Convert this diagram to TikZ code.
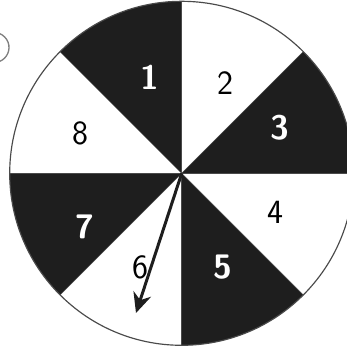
\documentclass[tikz,border=0pt]{standalone}
\usepackage{tikz}
\usetikzlibrary{arrows,arrows.meta,positioning,calc}
\definecolor{sectordark}{HTML}{1E1E1E}
\definecolor{rimgray}{HTML}{4A4A4A}

\begin{document}
\begin{tikzpicture}[x=0.3mm,y=0.3mm,
  numlabel/.style={font=\fontsize{29}{29}\selectfont\sffamily},
  darklabel/.style={numlabel, text=white, font=\fontsize{29}{29}\selectfont\sffamily\bfseries},
  pointer/.style={-{Stealth[length=6mm,width=5.5mm]}, line width=0.9mm, sectordark}]
\useasboundingbox (0,0) rectangle (347,349);
\clip (0,0) rectangle (347,349);
\coordinate (hub) at (181.7,175.7);
\coordinate (tip) at (136,36);
% dark sectors
\foreach \s in {90,0,-90,180}
  \fill[sectordark] (hub) -- ++(\s:172) arc[start angle=\s, end angle=\s+45, radius=172] -- cycle;
\foreach \a in {0,45,...,315}
  \draw[rimgray, thin] (hub) -- ++(\a:172);
\draw[rimgray, line width=0.35mm] (hub) circle (172);
% numbers
\foreach \n/\x/\y in {1/150/272, 3/280/221, 5/223/82, 7/85/122}
  \node[darklabel] (l\n) at (\x,\y) {\n};
\foreach \n/\x/\y in {2/225/266, 4/275/137, 6/140/82, 8/80/216}
  \node[numlabel] (l\n) at (\x,\y) {\n};
\draw[pointer] (hub) -- (tip);
% piece of the letter circle at the left edge
\draw[gray, line width=0.4mm] (-6,301.5) ++(-70:15) arc[start angle=-70, end angle=70, radius=15];
\end{tikzpicture}
\end{document}
